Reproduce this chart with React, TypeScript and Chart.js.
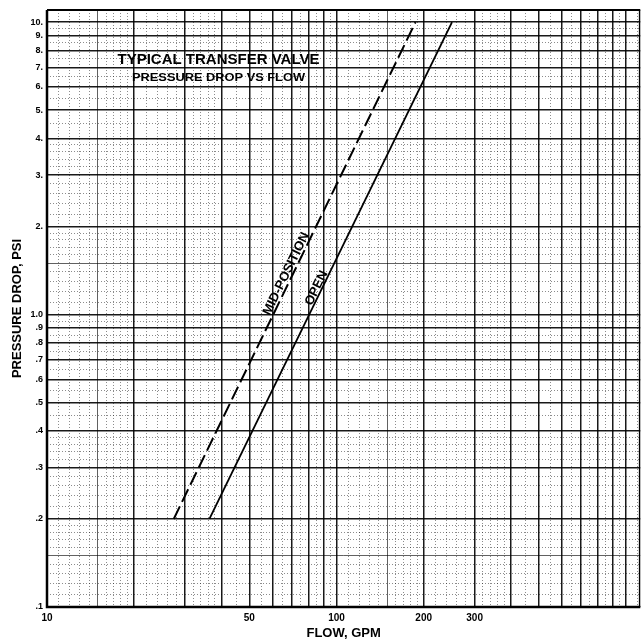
import React, { useEffect, useRef } from 'react';
import { Chart, registerables } from 'chart.js';

Chart.register(...registerables);

// ---- data ----
const midFlow = [27.4, 187.5];
const midDrop = [0.2, 10];
const openFlow = [36.4, 250.6];
const openDrop = [0.2, 10];

const seriesNames = ['MID-POSITION', 'OPEN'];
// pressure value at which each curve label is centred
const labelDrops = [1.35, 1.21];

const xLabelValues = [10, 50, 100, 200, 300];
const xLabelTexts = ['10', '50', '100', '200', '300'];
const yLabelValues = [10, 9, 8, 7, 6, 5, 4, 3, 2, 1, 0.9, 0.8, 0.7, 0.6, 0.5, 0.4, 0.3, 0.2, 0.1];
const yLabelTexts = ['10.', '9.', '8.', '7.', '6.', '5.', '4.', '3.', '2.', '1.0', '.9', '.8', '.7', '.6', '.5', '.4', '.3', '.2', '.1'];

const xMin = 10;
const xMax = 1120;
const yMin = 0.1;
const yMax = 11;

const chartTitle = 'TYPICAL TRANSFER VALVE';
const chartSubtitle = 'PRESSURE DROP VS FLOW';
const xTitle = 'FLOW, GPM';
const yTitle = 'PRESSURE DROP, PSI';

// log-paper subdivisions within a decade: [from, to, step]
const subdivisions = [
  [1, 2, 0.1],
  [2, 4, 0.2],
  [4, 10, 0.5],
];

function gridValues(min: number, max: number): number[] {
  const out: number[] = [];
  for (let e = Math.floor(Math.log10(min)); Math.pow(10, e) <= max; e++) {
    const d = Math.pow(10, e);
    for (const [a, b, s] of subdivisions) {
      const n = Math.round((b - a) / s);
      for (let k = 0; k < n; k++) {
        const m = +(a + k * s).toFixed(4);
        const v = +(m * d).toPrecision(6);
        if (v >= min * (1 - 1e-9) && v < max * (1 - 1e-9)) out.push(v);
      }
    }
  }
  return out;
}

function mantissa(v: number): number {
  const e = Math.floor(Math.log10(v) + 1e-9);
  return +(v / Math.pow(10, e)).toFixed(4);
}
function kind(v: number): 'major' | 'medium' | 'minor' {
  const m = mantissa(v);
  if (Math.abs(m - Math.round(m)) < 1e-6) return 'major';
  if (Math.abs(m - 1.5) < 1e-6 || Math.abs(m - 2.5) < 1e-6) return 'medium';
  return 'minor';
}
function findLabel(v: number, values: number[], texts: string[]): string {
  for (let i = 0; i < values.length; i++) {
    if (Math.abs(v - values[i]) / values[i] < 1e-6) return texts[i];
  }
  return '';
}

const xGrid = gridValues(xMin, xMax);
const yGrid = gridValues(yMin, yMax);

const gridColor = (ctx: any) => {
  const t = ctx.tick;
  if (!t) return '#000';
  const k = kind(t.value);
  return k === 'major' ? 'rgba(0,0,0,0.9)' : k === 'medium' ? 'rgba(0,0,0,0.62)' : 'rgba(0,0,0,0.45)';
};
const gridWidth = (ctx: any) => {
  const t = ctx.tick;
  if (!t) return 1;
  const k = kind(t.value);
  return k === 'major' ? 1.5 : 1;
};
const gridDash = (ctx: any) => {
  const t = ctx.tick;
  if (!t) return [];
  return kind(t.value) === 'minor' ? [1, 2] : [];
};

const decorPlugin = {
  id: 'decor',
  afterDraw(chart: any) {
    const { ctx, chartArea: ca, scales } = chart;
    const x = scales.x;
    const y = scales.y;
    ctx.save();
    // frame
    ctx.strokeStyle = '#000';
    ctx.lineWidth = 2.5;
    ctx.beginPath();
    ctx.moveTo(ca.left, ca.top);
    ctx.lineTo(ca.left, ca.bottom);
    ctx.lineTo(ca.right, ca.bottom);
    ctx.stroke();
    ctx.lineWidth = 2;
    ctx.beginPath();
    ctx.moveTo(ca.left, ca.top);
    ctx.lineTo(ca.right, ca.top);
    ctx.stroke();
    ctx.lineWidth = 1.4;
    ctx.beginPath();
    ctx.moveTo(ca.right - 0.7, ca.top);
    ctx.lineTo(ca.right - 0.7, ca.bottom);
    ctx.stroke();

    // in-plot titles
    ctx.fillStyle = '#000';
    ctx.textAlign = 'center';
    ctx.textBaseline = 'alphabetic';
    const cx = ca.left + 171.5;
    ctx.font = "bold 15px 'Liberation Sans', Arial, sans-serif";
    ctx.fillText(chartTitle, cx, ca.top + 54);
    ctx.font = "bold 11px 'Liberation Sans', Arial, sans-serif";
    const w = ctx.measureText(chartSubtitle).width;
    const sx = 173 / w;
    ctx.save();
    ctx.translate(cx, ca.top + 70.5);
    ctx.scale(sx, 1);
    ctx.fillText(chartSubtitle, 0, 0);
    ctx.restore();

    // curve labels
    const series = [
      [midFlow, midDrop, 2.5],
      [openFlow, openDrop, 1.5],
    ] as any[];
    ctx.font = "bold 13px 'Liberation Sans', Arial, sans-serif";
    series.forEach(([fl, dr, gap], i) => {
      const x0 = x.getPixelForValue(fl[0]);
      const y0 = y.getPixelForValue(dr[0]);
      const x1 = x.getPixelForValue(fl[1]);
      const y1 = y.getPixelForValue(dr[1]);
      const ang = Math.atan2(y1 - y0, x1 - x0);
      const ay = y.getPixelForValue(labelDrops[i]);
      const t = (ay - y0) / (y1 - y0);
      const ax = x0 + t * (x1 - x0);
      ctx.save();
      ctx.translate(ax, ay);
      ctx.rotate(ang);
      ctx.textAlign = 'center';
      ctx.textBaseline = 'alphabetic';
      ctx.fillText(seriesNames[i], 0, -gap);
      ctx.restore();
    });
    ctx.restore();
  },
};

export default function App() {
  const ref = useRef<HTMLCanvasElement | null>(null);
  useEffect(() => {
    if (!ref.current) return;
    const chart = new Chart(ref.current, {
      type: 'line',
      data: {
        datasets: [
          {
            label: seriesNames[0],
            data: midFlow.map((f, i) => ({ x: f, y: midDrop[i] })),
            borderColor: '#000',
            borderWidth: 2,
            borderDash: [14, 5],
            pointRadius: 0,
            fill: false,
          },
          {
            label: seriesNames[1],
            data: openFlow.map((f, i) => ({ x: f, y: openDrop[i] })),
            borderColor: '#000',
            borderWidth: 1.8,
            pointRadius: 0,
            fill: false,
          },
        ],
      },
      options: {
        animation: false,
        responsive: false,
        maintainAspectRatio: false,
        layout: { padding: { top: 10, right: 1, left: 0, bottom: 0 } },
        plugins: {
          legend: { display: false },
          tooltip: { enabled: false },
          title: { display: false },
        },
        scales: {
          x: {
            type: 'logarithmic',
            min: xMin,
            max: xMax,
            afterBuildTicks: (s: any) => {
              s.ticks = xGrid.map((v) => ({ value: v }));
            },
            afterFit: (s: any) => {
              s.height = 34;
            },
            ticks: {
              autoSkip: false,
              maxRotation: 0,
              minRotation: 0,
              padding: 5,
              color: '#000',
              font: { family: "'Liberation Sans Narrow', 'Liberation Sans', Arial, sans-serif", size: 10, weight: 'bold' },
              callback: (v: any) => findLabel(Number(v), xLabelValues, xLabelTexts),
            },
            grid: { drawTicks: false, color: gridColor, lineWidth: gridWidth },
            border: { display: false, dash: gridDash },
            title: {
              display: true,
              text: xTitle,
              color: '#000',
              font: { family: "'Liberation Sans', Arial, sans-serif", size: 13, weight: 'bold' },
              padding: { top: 0, bottom: 0 },
            },
          },
          y: {
            type: 'logarithmic',
            min: yMin,
            max: yMax,
            afterBuildTicks: (s: any) => {
              s.ticks = yGrid.map((v) => ({ value: v }));
            },
            afterFit: (s: any) => {
              s.width = 47;
            },
            ticks: {
              autoSkip: false,
              padding: 4,
              color: '#000',
              font: { family: "'Liberation Sans', Arial, sans-serif", size: 9, weight: 'bold' },
              callback: (v: any) => findLabel(Number(v), yLabelValues, yLabelTexts),
            },
            grid: { drawTicks: false, color: gridColor, lineWidth: gridWidth },
            border: { display: false, dash: gridDash },
            title: {
              display: true,
              text: yTitle,
              color: '#000',
              font: { family: "'Liberation Sans', Arial, sans-serif", size: 13, weight: 'bold' },
              padding: { top: 10, bottom: 0 },
            },
          },
        },
      } as any,
      plugins: [decorPlugin],
    });
    return () => chart.destroy();
  }, []);

  return (
    <div style={{ position: 'fixed', left: 0, top: 0, width: 643, height: 641, background: '#fff' }}>
      <canvas ref={ref} width={643} height={641} style={{ display: 'block' }} />
    </div>
  );
}
